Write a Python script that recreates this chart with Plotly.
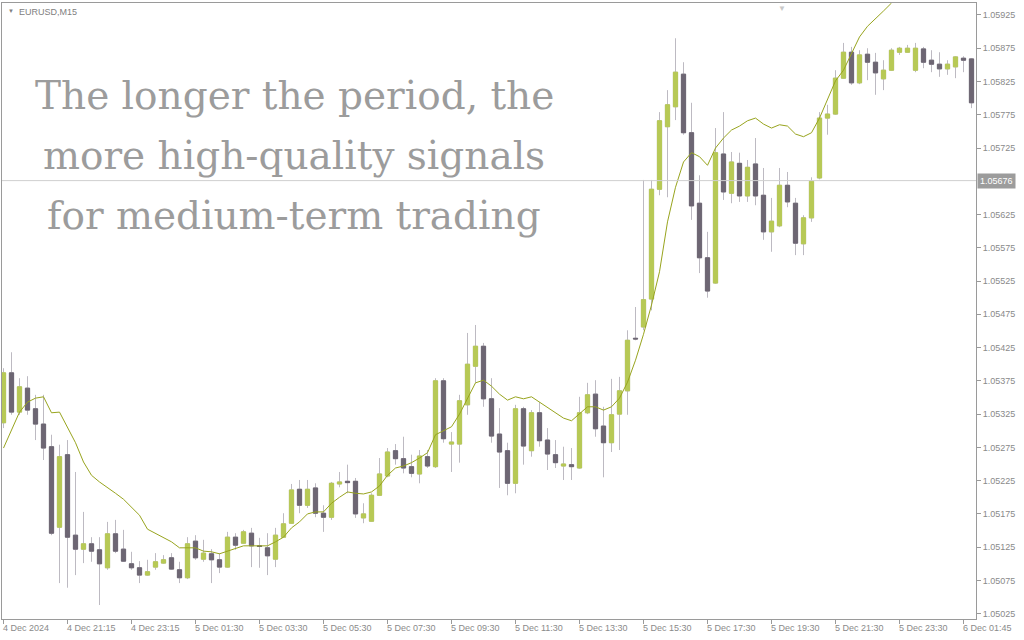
import plotly.graph_objects as go

# ---------------- data (EURUSD M15) ----------------
opens = [1.05312, 1.05387, 1.05328, 1.05364, 1.05333, 1.05310, 1.05276, 1.05155, 1.05264, 1.05143,
         1.05122, 1.05130, 1.05121, 1.05094, 1.05145, 1.05122, 1.05100, 1.05094, 1.05083, 1.05095,
         1.05101, 1.05109, 1.05091, 1.05079, 1.05134, 1.05107, 1.05115, 1.05106, 1.05095, 1.05140,
         1.05131, 1.05146, 1.05127, 1.05124, 1.05107, 1.05140, 1.05161, 1.05212, 1.05188, 1.05214,
         1.05176, 1.05170, 1.05220, 1.05224, 1.05224, 1.05169, 1.05164, 1.05203, 1.05232, 1.05270,
         1.05258, 1.05246, 1.05235, 1.05261, 1.05246, 1.05375, 1.05280, 1.05280, 1.05339, 1.05397,
         1.05427, 1.05348, 1.05295, 1.05270, 1.05221, 1.05333, 1.05270, 1.05327, 1.05286, 1.05264,
         1.05247, 1.05249, 1.05244, 1.05327, 1.05355, 1.05307, 1.05282, 1.05325, 1.05360, 1.05439,
         1.05456, 1.05498, 1.05663, 1.05757, 1.05787, 1.05836, 1.05748, 1.05642, 1.05560, 1.05522,
         1.05716, 1.05657, 1.05702, 1.05653, 1.05701, 1.05654, 1.05599, 1.05608, 1.05669, 1.05642,
         1.05581, 1.05620, 1.05680, 1.05770, 1.05776, 1.05830, 1.05869, 1.05823, 1.05866, 1.05854,
         1.05829, 1.05842, 1.05869, 1.05869, 1.05842, 1.05874, 1.05857, 1.05851, 1.05844, 1.05847,
         1.05860, 1.05859]
highs = [1.05394, 1.05418, 1.05379, 1.05382, 1.05354, 1.05354, 1.05294, 1.05279, 1.05286, 1.05238,
         1.05178, 1.05140, 1.05140, 1.05163, 1.05166, 1.05151, 1.05118, 1.05104, 1.05106, 1.05116,
         1.05113, 1.05116, 1.05103, 1.05140, 1.05143, 1.05136, 1.05122, 1.05116, 1.05148, 1.05146,
         1.05151, 1.05154, 1.05139, 1.05146, 1.05154, 1.05176, 1.05220, 1.05226, 1.05226, 1.05221,
         1.05188, 1.05223, 1.05238, 1.05249, 1.05229, 1.05191, 1.05206, 1.05259, 1.05274, 1.05280,
         1.05291, 1.05264, 1.05271, 1.05271, 1.05379, 1.05379, 1.05298, 1.05354, 1.05447, 1.05459,
         1.05432, 1.05379, 1.05334, 1.05282, 1.05339, 1.05336, 1.05331, 1.05343, 1.05304, 1.05286,
         1.05276, 1.05274, 1.05351, 1.05372, 1.05376, 1.05336, 1.05378, 1.05381, 1.05451, 1.05486,
         1.05677, 1.05677, 1.05779, 1.05812, 1.05890, 1.05854, 1.05793, 1.05684, 1.05599, 1.05755,
         1.05779, 1.05719, 1.05718, 1.05707, 1.05740, 1.05695, 1.05650, 1.05695, 1.05689, 1.05650,
         1.05624, 1.05681, 1.05779, 1.05790, 1.05842, 1.05883, 1.05877, 1.05872, 1.05875, 1.05868,
         1.05857, 1.05875, 1.05877, 1.05880, 1.05883, 1.05877, 1.05872, 1.05869, 1.05857, 1.05863,
         1.05863, 1.05860]
lows = [1.05304, 1.05324, 1.05324, 1.05324, 1.05286, 1.05256, 1.05143, 1.05071, 1.05064, 1.05083,
        1.05101, 1.05103, 1.05038, 1.05091, 1.05116, 1.05103, 1.05091, 1.05071, 1.05082, 1.05091,
        1.05100, 1.05091, 1.05071, 1.05077, 1.05106, 1.05103, 1.05071, 1.05086, 1.05094, 1.05121,
        1.05130, 1.05095, 1.05094, 1.05083, 1.05095, 1.05139, 1.05160, 1.05176, 1.05184, 1.05170,
        1.05148, 1.05166, 1.05215, 1.05206, 1.05169, 1.05161, 1.05163, 1.05202, 1.05230, 1.05249,
        1.05236, 1.05230, 1.05221, 1.05244, 1.05244, 1.05282, 1.05238, 1.05252, 1.05324, 1.05372,
        1.05336, 1.05282, 1.05214, 1.05203, 1.05206, 1.05249, 1.05261, 1.05276, 1.05241, 1.05244,
        1.05226, 1.05226, 1.05243, 1.05325, 1.05291, 1.05230, 1.05268, 1.05271, 1.05324, 1.05436,
        1.05451, 1.05481, 1.05654, 1.05651, 1.05767, 1.05745, 1.05617, 1.05537, 1.05500, 1.05521,
        1.05647, 1.05642, 1.05644, 1.05644, 1.05639, 1.05587, 1.05569, 1.05606, 1.05636, 1.05564,
        1.05564, 1.05614, 1.05678, 1.05745, 1.05775, 1.05829, 1.05820, 1.05821, 1.05827, 1.05805,
        1.05812, 1.05841, 1.05865, 1.05868, 1.05839, 1.05845, 1.05839, 1.05832, 1.05835, 1.05830,
        1.05839, 1.05785]
closes = [1.05387, 1.05328, 1.05366, 1.05331, 1.05310, 1.05274, 1.05146, 1.05261, 1.05140, 1.05122,
          1.05130, 1.05119, 1.05100, 1.05145, 1.05119, 1.05104, 1.05094, 1.05083, 1.05088, 1.05103,
          1.05106, 1.05092, 1.05079, 1.05130, 1.05109, 1.05116, 1.05106, 1.05095, 1.05140, 1.05128,
          1.05148, 1.05127, 1.05126, 1.05112, 1.05143, 1.05160, 1.05211, 1.05188, 1.05212, 1.05176,
          1.05170, 1.05221, 1.05223, 1.05222, 1.05175, 1.05175, 1.05203, 1.05235, 1.05268, 1.05258,
          1.05244, 1.05236, 1.05262, 1.05247, 1.05375, 1.05288, 1.05283, 1.05345, 1.05400, 1.05427,
          1.05348, 1.05292, 1.05268, 1.05221, 1.05333, 1.05277, 1.05327, 1.05285, 1.05265, 1.05252,
          1.05250, 1.05246, 1.05327, 1.05354, 1.05303, 1.05282, 1.05324, 1.05360, 1.05436, 1.05438,
          1.05497, 1.05663, 1.05766, 1.05790, 1.05839, 1.05748, 1.05638, 1.05560, 1.05510, 1.05718,
          1.05659, 1.05704, 1.05653, 1.05696, 1.05653, 1.05599, 1.05615, 1.05669, 1.05644, 1.05582,
          1.05620, 1.05675, 1.05770, 1.05776, 1.05830, 1.05869, 1.05823, 1.05865, 1.05854, 1.05838,
          1.05842, 1.05872, 1.05875, 1.05875, 1.05875, 1.05854, 1.05851, 1.05844, 1.05851, 1.05862,
          1.05857, 1.05793]
# moving average line (goes off the top after bar 111)
ma_values = [1.05274, 1.05301, 1.05328, 1.05343, 1.05349, 1.05351, 1.05327, 1.05328, 1.05306, 1.05282,
             1.05253, 1.05233, 1.05223, 1.05215, 1.05206, 1.05197, 1.05185, 1.05173, 1.05152, 1.05146,
             1.05140, 1.05133, 1.05124, 1.05124, 1.05124, 1.05119, 1.05118, 1.05115, 1.05119, 1.05124,
             1.05127, 1.05127, 1.05127, 1.05127, 1.05133, 1.05140, 1.05154, 1.05163, 1.05175, 1.05178,
             1.05178, 1.05191, 1.05200, 1.05208, 1.05206, 1.05205, 1.05208, 1.05217, 1.05233, 1.05244,
             1.05247, 1.05252, 1.05259, 1.05267, 1.05294, 1.05300, 1.05306, 1.05325, 1.05349, 1.05372,
             1.05376, 1.05367, 1.05355, 1.05346, 1.05351, 1.05348, 1.05351, 1.05343, 1.05334, 1.05327,
             1.05319, 1.05315, 1.05325, 1.05336, 1.05336, 1.05331, 1.05336, 1.05349, 1.05373, 1.05406,
             1.05445, 1.05489, 1.05539, 1.05614, 1.05666, 1.05704, 1.05718, 1.05712, 1.05699, 1.05725,
             1.05740, 1.05752, 1.05758, 1.05766, 1.05770, 1.05761, 1.05755, 1.05760, 1.05758, 1.05746,
             1.05742, 1.05748, 1.05770, 1.05797, 1.05826, 1.05842, 1.05868, 1.05892, 1.05908, 1.05919,
             1.05931, 1.05943, 1.05955]
time_labels = ["4 Dec 2024", "4 Dec 21:15", "4 Dec 23:15", "5 Dec 01:30", "5 Dec 03:30",
               "5 Dec 05:30", "5 Dec 07:30", "5 Dec 09:30", "5 Dec 11:30", "5 Dec 13:30",
               "5 Dec 15:30", "5 Dec 17:30", "5 Dec 19:30", "5 Dec 21:30", "5 Dec 23:30",
               "6 Dec 01:45"]
label_step = 8
price_ticks = [1.05025, 1.05075, 1.05125, 1.05175, 1.05225, 1.05275, 1.05325, 1.05375, 1.05425,
               1.05475, 1.05525, 1.05575, 1.05625, 1.05725, 1.05775, 1.05825, 1.05875, 1.05925]
current_price = 1.05676
symbol_title = "EURUSD,M15"
headline_lines = ["The longer the period, the", "more high-quality signals", "for medium-term trading"]

# ---------------- styling ----------------
BULL = "#b7c955"
BEAR = "#6d6673"
WICK = "#bdbac2"
MA_COLOR = "#98a41e"
AXIS = "#9a9a9a"
TEXT = "#8a8a8a"
FONT = "Liberation Sans"

n = len(opens)
x = list(range(n))
body_hi = [max(o, c) for o, c in zip(opens, closes)]
body_lo = [min(o, c) for o, c in zip(opens, closes)]

fig = go.Figure()
# wicks
fig.add_trace(go.Candlestick(
    x=x, open=opens, high=highs, low=lows, close=closes,
    increasing=dict(line=dict(color=WICK, width=1), fillcolor=BULL),
    decreasing=dict(line=dict(color=WICK, width=1), fillcolor=BEAR),
    whiskerwidth=0, hoverinfo="skip", showlegend=False))
# bodies
fig.add_trace(go.Candlestick(
    x=x, open=opens, high=body_hi, low=body_lo, close=closes,
    increasing=dict(line=dict(color=BULL, width=1), fillcolor=BULL),
    decreasing=dict(line=dict(color=BEAR, width=1), fillcolor=BEAR),
    whiskerwidth=0, hoverinfo="skip", showlegend=False))
# moving average
fig.add_trace(go.Scatter(
    x=x[:len(ma_values)], y=ma_values, mode="lines",
    line=dict(color=MA_COLOR, width=1), hoverinfo="skip", showlegend=False))

tick_positions = [i * label_step for i in range(len(time_labels))]

fig.update_layout(
    width=1024, height=640,
    margin=dict(l=2, r=48, t=3, b=21),
    paper_bgcolor="white", plot_bgcolor="white",
    boxgap=0.25,
    font=dict(family=FONT, size=9, color=TEXT),
    xaxis=dict(
        range=[-0.1875, n - 1 + 0.5625], rangeslider=dict(visible=False),
        showgrid=False, zeroline=False,
        showline=True, linecolor=AXIS, linewidth=1, mirror=True,
        tickmode="array", tickvals=tick_positions, ticktext=[""] * len(tick_positions),
        ticks="outside", ticklen=4, tickcolor=AXIS, showticklabels=False,
    ),
    yaxis=dict(
        range=[1.050170, 1.059430], side="right",
        showgrid=False, zeroline=False,
        showline=True, linecolor=AXIS, linewidth=1, mirror=True,
        tickmode="array", tickvals=price_ticks,
        ticktext=[f"{v:.5f}" for v in price_ticks],
        ticks="outside", ticklen=4, tickcolor=AXIS,
        tickfont=dict(family=FONT, size=9, color=TEXT),
    ),
)

# current price line and label
fig.add_shape(type="line", xref="paper", x0=0, x1=1, yref="y", y0=current_price, y1=current_price,
              line=dict(color="#cfcfcf", width=1))
fig.add_annotation(xref="paper", x=1, xshift=1, yref="y", y=current_price, xanchor="left",
                   yanchor="middle", text=f"{current_price:.5f}", showarrow=False,
                   bgcolor="#9c9c9c", borderpad=2,
                   font=dict(family=FONT, size=9, color="white"))

# time labels (MT4-style, left aligned at the tick)
for pos, lab in zip(tick_positions, time_labels):
    fig.add_annotation(x=pos, xref="x", y=0, yref="paper", yanchor="top", xanchor="left",
                       xshift=-3, yshift=-2, text=lab, showarrow=False,
                       font=dict(family=FONT, size=9, color=TEXT))

# symbol title
fig.add_annotation(xref="paper", yref="paper", x=0.015, y=1, xanchor="left", yanchor="top",
                   yshift=-2, text=symbol_title, showarrow=False,
                   font=dict(family=FONT, size=9, color="#808080"))
fig.add_annotation(xref="paper", yref="paper", x=0.004, y=1, xanchor="left", yanchor="top",
                   yshift=-3, text="▼", showarrow=False,
                   font=dict(family=FONT, size=6, color="#808080"))
# chart shift marker
fig.add_annotation(xref="paper", yref="paper", x=0.801, y=1, xanchor="center", yanchor="top",
                   yshift=1, text="▼", showarrow=False,
                   font=dict(family=FONT, size=8, color="#c8c8c8"))

# headline text, one annotation per line (line spacing ~60 px)
for k, line in enumerate(headline_lines):
    fig.add_annotation(xref="paper", yref="paper", x=0.3, y=1, xanchor="center", yanchor="top",
                       yshift=-68 - 60 * k, text=line, showarrow=False,
                       font=dict(family="DejaVu Serif", size=39, color="#9c9c9c"))

fig.write_html("out.html", config={"displayModeBar": False},
               post_script="document.body.style.margin='0';document.body.style.overflow='hidden';")
